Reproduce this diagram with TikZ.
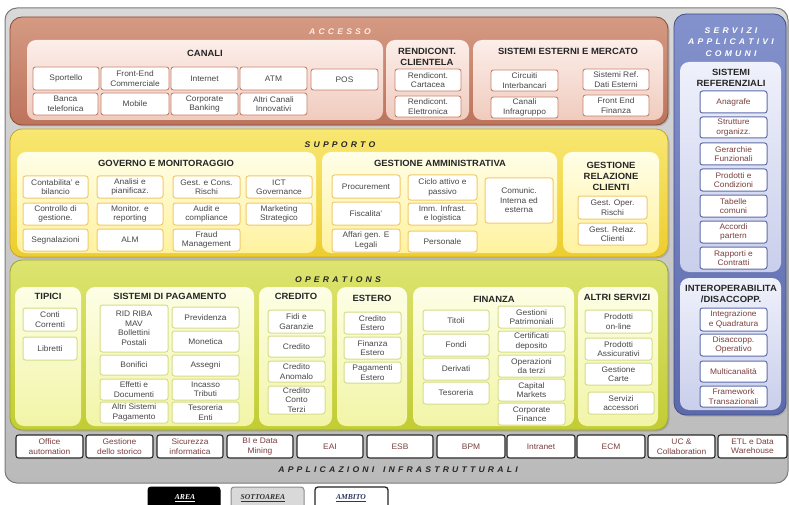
\documentclass[tikz,border=0pt]{standalone}
\usepackage{fontspec}
\setmainfont{Liberation Sans}[FakeStretch=1.05]
\newfontfamily\legfont{Liberation Serif}
\usetikzlibrary{shadows}

\definecolor{txt}{HTML}{474747}
\definecolor{txtR}{HTML}{7B3F3F}
\definecolor{ttl}{HTML}{262626}

\def\spaced#1{\spacedaux#1\relax\unkern}
\def\spacedaux#1{\ifx#1\relax\else#1\kern3.2pt\expandafter\spacedaux\fi}

\newcommand\bxfont{\fontsize{8}{9.5}\selectfont}
\newcommand\hdfont{\fontsize{9}{11}\selectfont\bfseries}
\newcommand\arfont{\fontsize{8.2}{11.5}\selectfont\bfseries\itshape}

\newcommand\Bx[7]{\node[#1, minimum width={#5pt-#3pt}, minimum height={#6pt-#4pt}] (#2) at ({(#3+#5)/2},{(#4+#6)/2}) {#7};}

\definecolor{HTMLA}{HTML}{8C4A38}
\definecolor{HTMLB}{HTML}{D59A83}
\definecolor{HTMLC}{HTML}{BD735C}
\definecolor{HTMLD}{HTML}{C9A62B}
\definecolor{HTMLE}{HTML}{F8E772}
\definecolor{HTMLF}{HTML}{EDCD2E}
\definecolor{HTMLG}{HTML}{9BA332}
\definecolor{HTMLH}{HTML}{DDE470}
\definecolor{HTMLI}{HTML}{C2CC33}
\definecolor{HTMLJ}{HTML}{434F8A}
\definecolor{HTMLK}{HTML}{8391CC}
\definecolor{HTMLL}{HTML}{5C6AAC}
\definecolor{HTMLM}{HTML}{FCEEE9}
\definecolor{HTMLN}{HTML}{F0CBBE}
\definecolor{HTMLO}{HTML}{FFFEE8}
\definecolor{HTMLP}{HTML}{FFF29E}
\definecolor{HTMLQ}{HTML}{FDFEE6}
\definecolor{HTMLR}{HTML}{F2F5A6}
\definecolor{HTMLS}{HTML}{EFF1FB}
\definecolor{HTMLT}{HTML}{C9CEEB}
\definecolor{HTMLU}{HTML}{C6826E}
\definecolor{HTMLV}{HTML}{F1C968}
\definecolor{HTMLW}{HTML}{D6DD86}
\definecolor{HTMLX}{HTML}{5F6DAA}
\definecolor{HTMLY}{HTML}{2B2B2B}

\tikzset{
  base/.style={rectangle, inner sep=0pt, outer sep=0pt, align=center},
  outerbg/.style={base, rounded corners=12pt, draw=black!52, line width=1pt, top color=black!15, bottom color=black!27},
  areaA/.style={base, rounded corners=12pt, draw=HTMLA, line width=0.8pt, top color=HTMLB, bottom color=HTMLC, drop shadow={shadow xshift=1.5pt, shadow yshift=-1.5pt, opacity=0.35}},
  areaS/.style={base, rounded corners=12pt, draw=HTMLD, line width=0.8pt, top color=HTMLE, bottom color=HTMLF, drop shadow={shadow xshift=1.5pt, shadow yshift=-1.5pt, opacity=0.35}},
  areaO/.style={base, rounded corners=12pt, draw=HTMLG, line width=0.8pt, top color=HTMLH, bottom color=HTMLI, drop shadow={shadow xshift=1.5pt, shadow yshift=-1.5pt, opacity=0.35}},
  areaB/.style={base, rounded corners=12pt, draw=HTMLJ, line width=0.8pt, top color=HTMLK, bottom color=HTMLL, drop shadow={shadow xshift=1.5pt, shadow yshift=-1.5pt, opacity=0.35}},
  pnlA/.style={base, rounded corners=9pt, top color=HTMLM, bottom color=HTMLN},
  pnlS/.style={base, rounded corners=9pt, top color=HTMLO, bottom color=HTMLP},
  pnlO/.style={base, rounded corners=9pt, top color=HTMLQ, bottom color=HTMLR},
  pnlB/.style={base, rounded corners=9pt, top color=HTMLS, bottom color=HTMLT},
  bx/.style={base, fill=white, rounded corners=2.5pt, font=\bxfont, text=txt},
  bxA/.style={bx, draw=HTMLU, line width=0.9pt},
  bxS/.style={bx, draw=HTMLV, line width=1pt},
  bxO/.style={bx, draw=HTMLW, line width=1pt},
  bxB/.style={bx, draw=HTMLX, line width=1pt, text=txtR},
  bxI/.style={bx, draw=HTMLY, line width=1.1pt, text=txtR},
  hd/.style={base, font=\hdfont, text=ttl},
  ar/.style={base, font=\arfont, text=ttl},
  arW/.style={base, font=\arfont, text=white},
  leg/.style={base, rounded corners=3pt, font=\legfont\fontsize{7.6}{8}\selectfont\bfseries\itshape},
}

\begin{document}
\begin{tikzpicture}[x=1pt,y=-1pt]
\useasboundingbox (0,0) rectangle (789,505);
\fill[white] (0,0) rectangle (789,505);

% outer grey frame
\Bx{outerbg}{bg}{5}{8}{788}{483}{}

% ================= ACCESSO =================
\Bx{areaA}{areaAcc}{10}{17}{668}{125}{}
\node[arW, text=white!92!red] (accT) at (340,32) {\spaced{ACCESSO}};

\Bx{pnlA}{pCanali}{27}{40}{383}{120}{}
\node[hd] (canaliT) at (205,53) {CANALI};
\Bx{bxA}{sportello}{33}{67}{99}{90}{Sportello}
\Bx{bxA}{frontend}{101}{67}{169}{90}{Front-End\\Commerciale}
\Bx{bxA}{internet}{171}{67}{238}{90}{Internet}
\Bx{bxA}{atm}{240}{67}{307}{90}{ATM}
\Bx{bxA}{pos}{311}{69}{378}{90}{POS}
\Bx{bxA}{banca}{33}{93}{98}{115}{Banca\\telefonica}
\Bx{bxA}{mobile}{101}{93}{169}{115}{Mobile}
\Bx{bxA}{corporate}{171}{93}{238}{115}{Corporate\\Banking}
\Bx{bxA}{altricanali}{240}{93}{307}{115}{Altri Canali\\Innovativi}

\Bx{pnlA}{pRend}{386}{40}{469}{120}{}
\node[hd] (rendT) at (427,57) {RENDICONT.\\CLIENTELA};
\Bx{bxA}{rcart}{395}{69}{461}{91}{Rendicont.\\Cartacea}
\Bx{bxA}{relet}{395}{96}{461}{117}{Rendicont.\\Elettronica}

\Bx{pnlA}{pSem}{473}{40}{663}{120}{}
\node[hd] (semT) at (568,51) {SISTEMI ESTERNI E MERCATO};
\Bx{bxA}{circuiti}{491}{70}{558}{91}{Circuiti\\Interbancari}
\Bx{bxA}{infragr}{491}{97}{558}{118}{Canali\\Infragruppo}
\Bx{bxA}{sisref}{583}{69}{649}{90}{Sistemi Ref.\\Dati Esterni}
\Bx{bxA}{fefin}{583}{95}{649}{116}{Front End\\Finanza}

% ================= SERVIZI APPLICATIVI COMUNI =================
\Bx{areaB}{areaServ}{674}{14}{786}{415}{}
\node[arW] (servT) at (731,42) {\spaced{SERVIZI}\\\spaced{APPLICATIVI}\\\spaced{COMUNI}};

\Bx{pnlB}{pSisRef}{680}{62}{781}{272}{}
\node[hd] (sisrefT) at (731,78) {SISTEMI\\REFERENZIALI};
\Bx{bxB}{anagrafe}{700}{91}{767}{113}{Anagrafe}
\Bx{bxB}{strutture}{700}{117}{767}{138}{Strutture\\organizz.}
\Bx{bxB}{gerarchie}{700}{143}{767}{165}{Gerarchie\\Funzionali}
\Bx{bxB}{prodcond}{700}{169}{767}{191}{Prodotti e\\Condizioni}
\Bx{bxB}{tabelle}{700}{195}{767}{217}{Tabelle\\comuni}
\Bx{bxB}{accordi}{700}{221}{767}{243}{Accordi\\partern}
\Bx{bxB}{rapporti}{700}{247}{767}{269}{Rapporti e\\Contratti}

\Bx{pnlB}{pInterop}{680}{278}{781}{410}{}
\node[hd] (interopT) at (731,294) {INTEROPERABILITA\\/DISACCOPP.};
\Bx{bxB}{integr}{700}{308}{767}{331}{Integrazione\\e Quadratura}
\Bx{bxB}{disacc}{700}{334}{767}{356}{Disaccopp.\\Operativo}
\Bx{bxB}{multican}{700}{361}{767}{382}{Multicanalità}
\Bx{bxB}{framework}{700}{386}{767}{407}{Framework\\Transazionali}

% ================= SUPPORTO =================
\Bx{areaS}{areaSup}{10}{129}{668}{257}{}
\node[ar] (supT) at (340,145) {\spaced{SUPPORTO}};

\Bx{pnlS}{pGov}{17}{152}{316}{253}{}
\node[hd] (govT) at (166,163) {GOVERNO E MONITORAGGIO};
\Bx{bxS}{contab}{23}{176}{88}{198}{Contabilita' e\\bilancio}
\Bx{bxS}{analisi}{97}{176}{163}{198}{Analisi e\\pianificaz.}
\Bx{bxS}{gestcons}{173}{176}{240}{198}{Gest. e Cons.\\Rischi}
\Bx{bxS}{ict}{246}{176}{312}{198}{ICT\\Governance}
\Bx{bxS}{controllo}{23}{203}{88}{225}{Controllo di\\gestione.}
\Bx{bxS}{monitor}{97}{203}{163}{225}{Monitor. e\\reporting}
\Bx{bxS}{audit}{173}{203}{240}{225}{Audit e\\compliance}
\Bx{bxS}{marketing}{246}{203}{312}{225}{Marketing\\Strategico}
\Bx{bxS}{segnal}{23}{229}{88}{251}{Segnalazioni}
\Bx{bxS}{alm}{97}{229}{163}{251}{ALM}
\Bx{bxS}{fraud}{173}{229}{240}{251}{Fraud\\Management}

\Bx{pnlS}{pAmm}{322}{152}{557}{253}{}
\node[hd] (ammT) at (440,163) {GESTIONE AMMINISTRATIVA};
\Bx{bxS}{procur}{332}{175}{400}{198}{Procurement}
\Bx{bxS}{fiscal}{332}{202}{400}{225}{Fiscalita'}
\Bx{bxS}{affari}{332}{229}{400}{252}{Affari gen. E\\Legali}
\Bx{bxS}{ciclo}{408}{175}{477}{200}{Ciclo attivo e\\passivo}
\Bx{bxS}{imm}{408}{203}{477}{225}{Imm. Infrast.\\e logistica}
\Bx{bxS}{personale}{408}{231}{477}{252}{Personale}
\Bx{bxS}{comunic}{485}{178}{553}{223}{Comunic.\\Interna ed\\esterna}

\Bx{pnlS}{pGrc}{563}{152}{659}{253}{}
\node[hd] (grcT) at (611,176) {GESTIONE\\RELAZIONE\\CLIENTI};
\Bx{bxS}{gestoper}{578}{196}{647}{219}{Gest. Oper.\\Rischi}
\Bx{bxS}{gestrel}{578}{223}{647}{245}{Gest. Relaz.\\Clienti}

% ================= OPERATIONS =================
\Bx{areaO}{areaOps}{10}{260}{668}{430}{}
\node[ar] (opsT) at (338,280) {\spaced{OPERATIONS}};

\Bx{pnlO}{pTipici}{15}{287}{81}{426}{}
\node[hd] (tipT) at (48,296) {TIPICI};
\Bx{bxO}{conti}{23}{308}{77}{331}{Conti\\Correnti}
\Bx{bxO}{libretti}{23}{337}{77}{360}{Libretti}

\Bx{pnlO}{pPag}{86}{287}{254}{426}{}
\node[hd] (pagT) at (170,296) {SISTEMI DI PAGAMENTO};
\Bx{bxO}{rid}{100}{305}{168}{352}{RID RIBA\\MAV\\Bollettini\\Postali}
\Bx{bxO}{bonifici}{100}{355}{168}{375}{Bonifici}
\Bx{bxO}{effetti}{100}{379}{168}{400}{Effetti e\\Documenti}
\Bx{bxO}{altrisist}{100}{402}{168}{423}{Altri Sistemi\\Pagamento}
\Bx{bxO}{previd}{172}{307}{239}{328}{Previdenza}
\Bx{bxO}{monetica}{172}{331}{239}{352}{Monetica}
\Bx{bxO}{assegni}{172}{355}{239}{376}{Assegni}
\Bx{bxO}{incasso}{172}{379}{239}{400}{Incasso\\Tributi}
\Bx{bxO}{tesenti}{172}{402}{239}{423}{Tesoreria\\Enti}

\Bx{pnlO}{pCred}{259}{287}{332}{426}{}
\node[hd] (credT) at (296,296) {CREDITO};
\Bx{bxO}{fidi}{268}{310}{325}{333}{Fidi e\\Garanzie}
\Bx{bxO}{credito}{268}{336}{325}{357}{Credito}
\Bx{bxO}{credan}{268}{361}{325}{382}{Credito\\Anomalo}
\Bx{bxO}{credct}{268}{386}{325}{414}{\fontsize{8}{9}\selectfont Credito\\Conto\\Terzi}

\Bx{pnlO}{pEst}{337}{287}{407}{426}{}
\node[hd] (estT) at (372,298) {ESTERO};
\Bx{bxO}{credest}{344}{312}{401}{334}{Credito\\Estero}
\Bx{bxO}{finest}{344}{337}{401}{359}{Finanza\\Estero}
\Bx{bxO}{pagest}{344}{362}{401}{383}{Pagamenti\\Estero}

\Bx{pnlO}{pFin}{413}{287}{574}{426}{}
\node[hd] (finT) at (494,299) {FINANZA};
\Bx{bxO}{titoli}{423}{310}{489}{331}{Titoli}
\Bx{bxO}{fondi}{423}{334}{489}{356}{Fondi}
\Bx{bxO}{derivati}{423}{358}{489}{380}{Derivati}
\Bx{bxO}{tesoreria}{423}{382}{489}{404}{Tesoreria}
\Bx{bxO}{gestpat}{498}{306}{565}{328}{Gestioni\\Patrimoniali}
\Bx{bxO}{certdep}{498}{331}{565}{352}{Certificati\\deposito}
\Bx{bxO}{opterzi}{498}{355}{565}{377}{Operazioni\\da terzi}
\Bx{bxO}{capmkt}{498}{379}{565}{401}{Capital\\Markets}
\Bx{bxO}{corpfin}{498}{403}{565}{425}{Corporate\\Finance}

\Bx{pnlO}{pAltri}{578}{287}{658}{426}{}
\node[hd] (altriT) at (617,297) {ALTRI SERVIZI};
\Bx{bxO}{prodon}{585}{310}{652}{333}{Prodotti\\on-line}
\Bx{bxO}{prodass}{585}{338}{652}{360}{Prodotti\\Assicurativi}
\Bx{bxO}{gestcarte}{585}{363}{652}{385}{Gestione\\Carte}
\Bx{bxO}{servacc}{588}{392}{654}{414}{Servizi\\accessori}

% ================= APPLICAZIONI INFRASTRUTTURALI =================
\Bx{bxI}{office}{16}{435}{83}{458}{Office\\automation}
\Bx{bxI}{storico}{86}{435}{153}{458}{Gestione\\dello storico}
\Bx{bxI}{sicur}{157}{435}{223}{458}{Sicurezza\\informatica}
\Bx{bxI}{bidata}{227}{435}{293}{458}{BI e Data\\Mining}
\Bx{bxI}{eai}{297}{435}{363}{458}{EAI}
\Bx{bxI}{esb}{367}{435}{433}{458}{ESB}
\Bx{bxI}{bpm}{437}{435}{505}{458}{BPM}
\Bx{bxI}{intranet}{507}{435}{575}{458}{Intranet}
\Bx{bxI}{ecm}{577}{435}{645}{458}{ECM}
\Bx{bxI}{uc}{648}{435}{715}{458}{UC \&\\Collaboration}
\Bx{bxI}{etl}{718}{435}{787}{458}{ETL e Data\\Warehouse}
\node[ar] (appT) at (398,470) {\spaced{APPLICAZIONI~INFRASTRUTTURALI}};

% ================= LEGENDA =================
\Bx{leg, fill=black, draw=black, line width=1pt, text=white}{legArea}{148}{487}{220}{512}{}
\Bx{leg, fill=black!15, draw=black!45, line width=1pt, text=black!80}{legSotto}{231}{487}{304}{512}{}
\Bx{leg, fill=white, draw=black!85, line width=1.3pt, text=black!80}{legAmbito}{315}{487}{388}{512}{}
\node[leg, text=white] (legAreaT) at (185,498) {\underline{AREA}};
\node[leg, text=black!80] (legSottoT) at (263,498) {\underline{SOTTOAREA}};
\node[leg, text=HTMLJ!70!black] (legAmbitoT) at (351,498) {\underline{AMBITO}};
\end{tikzpicture}
\end{document}
